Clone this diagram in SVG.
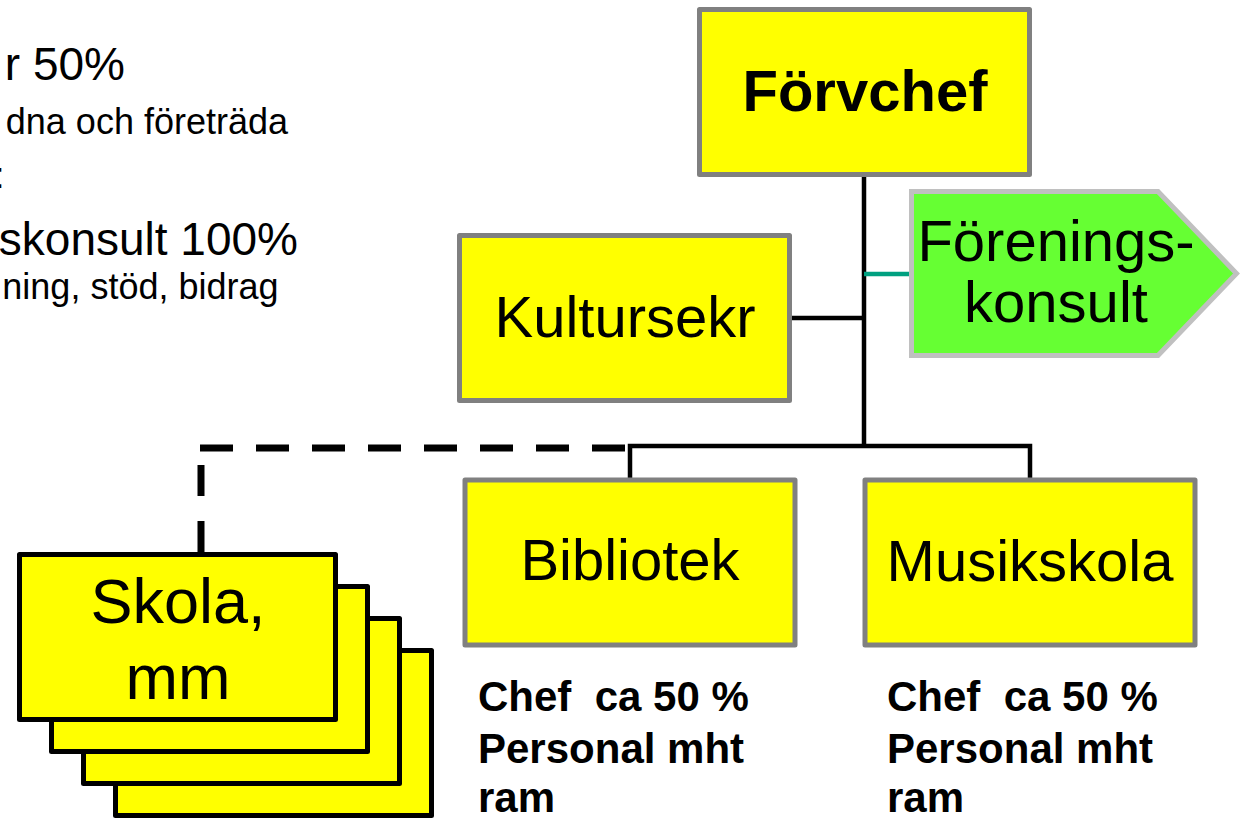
<svg xmlns="http://www.w3.org/2000/svg" width="1241" height="818" viewBox="0 0 1241 818">
<style>
  .box { fill: #ffff00; stroke: #808080; stroke-width: 5; stroke-linejoin: round; }
  .stack { fill: #ffff00; stroke: #000000; stroke-width: 5; stroke-linejoin: round; }
  .lbl { font-family: "Liberation Sans", Arial, sans-serif; font-size: 58px; fill: #000; text-anchor: middle; }
  .big { font-family: "Liberation Sans", Arial, sans-serif; font-size: 46px; fill: #000; text-anchor: end; }
  .small { font-family: "Liberation Sans", Arial, sans-serif; font-size: 36px; fill: #000; text-anchor: end; }
  .note { font-family: "Liberation Sans", Arial, sans-serif; font-size: 42px; font-weight: bold; fill: #000; white-space: pre; }
  .line { fill: none; stroke: #000; stroke-width: 4.5; }
  .dash { fill: none; stroke: #000; stroke-width: 7; stroke-linecap: butt; }
</style>
<rect width="1241" height="818" fill="#ffffff"/>

<g id="left-text">
  <text class="big" x="125" y="79.5">r 50%</text>
  <text class="small" x="288" y="134">dna och företräda</text>
  <text class="small" x="4.5" y="188">:</text>
  <text class="big" x="298" y="255">skonsult 100%</text>
  <text class="small" x="278.5" y="299">ning, stöd, bidrag</text>
</g>

<g id="connectors">
  <path class="line" d="M864,177 V446"/>
  <path class="line" d="M792,318 H864"/>
  <path d="M864,274 H909" fill="none" stroke="#00a080" stroke-width="4.5"/>
  <path class="line" d="M630,478 V446 H1030 V478"/>
  <path class="dash" d="M625,448 H200" stroke-dasharray="33 23"/>
  <path class="dash" d="M201,552 V448" stroke-dasharray="31 25"/>
</g>

<g id="forvchef">
  <rect class="box" x="699.5" y="9.5" width="330" height="165"/>
  <text class="lbl" x="865" y="111" style="font-weight:bold">Förvchef</text>
</g>

<g id="kultursekr">
  <rect class="box" x="459.5" y="235.5" width="330" height="165"/>
  <text class="lbl" x="625" y="337">Kultursekr</text>
</g>

<g id="foreningskonsult">
  <polygon points="911.5,191.5 1158,191.5 1236.5,273.5 1158,355.5 911.5,355.5" fill="#66ff33" stroke="#c0c0c0" stroke-width="5"/>
  <text class="lbl" x="1056" y="261">Förenings-</text>
  <text class="lbl" x="1056" y="322">konsult</text>
</g>

<g id="bibliotek">
  <rect class="box" x="465" y="480" width="330" height="165"/>
  <text class="lbl" x="630" y="580">Bibliotek</text>
  <text class="note" x="478" y="711" xml:space="preserve">Chef  ca 50 %</text>
  <text class="note" x="478" y="763">Personal mht</text>
  <text class="note" x="478" y="812">ram</text>
</g>

<g id="musikskola">
  <rect class="box" x="865" y="480" width="330" height="165"/>
  <text class="lbl" x="1030" y="580.5">Musikskola</text>
  <text class="note" x="887" y="711" xml:space="preserve">Chef  ca 50 %</text>
  <text class="note" x="887" y="763">Personal mht</text>
  <text class="note" x="887" y="812">ram</text>
</g>

<g id="skola">
  <rect class="stack" x="115.5" y="650.5" width="316" height="165"/>
  <rect class="stack" x="83.5" y="618.5" width="316" height="165"/>
  <rect class="stack" x="51.5" y="586.5" width="316" height="165"/>
  <rect class="stack" x="19.5" y="554.5" width="316" height="165"/>
  <text class="lbl" x="178" y="623" style="font-size:63px">Skola,</text>
  <text class="lbl" x="178" y="699" style="font-size:63px">mm</text>
</g>
</svg>
